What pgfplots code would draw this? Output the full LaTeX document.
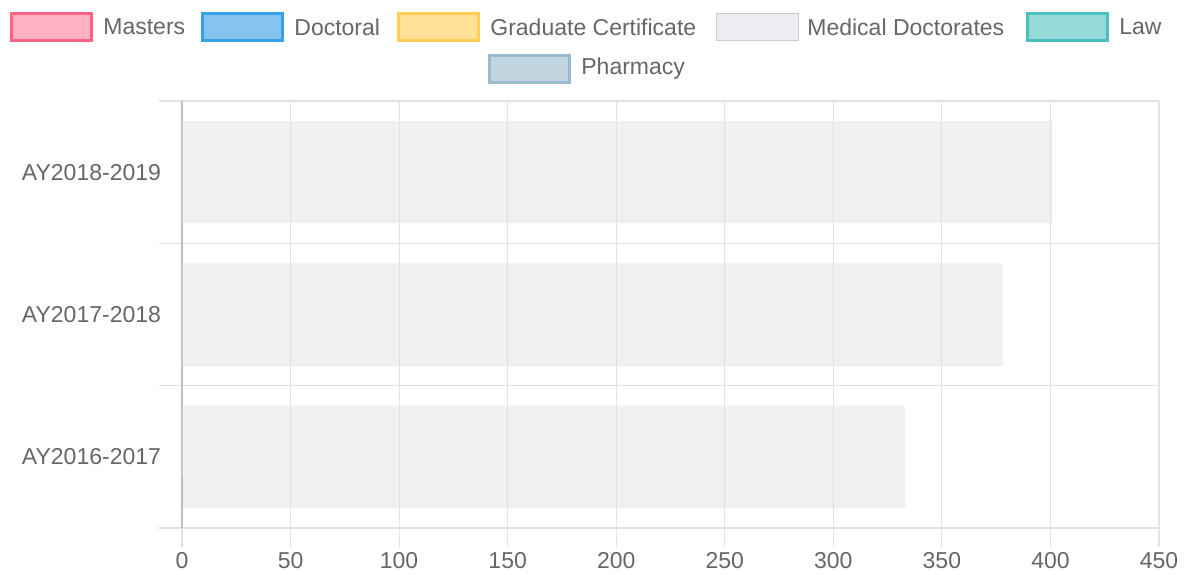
\documentclass[border=0pt]{standalone}
\usepackage{pgfplots}
\pgfplotsset{compat=1.18}
\usepackage{fontspec}
\setmainfont{Liberation Sans}
\definecolor{txt}{RGB}{102,102,102}
\definecolor{gridgray}{RGB}{226,226,226}
\definecolor{axisgray}{RGB}{190,190,190}
\definecolor{mdbar}{RGB}{225,226,230}
\definecolor{mastersB}{RGB}{255,99,132}\definecolor{mastersF}{RGB}{255,177,193}
\definecolor{docB}{RGB}{54,162,235}\definecolor{docF}{RGB}{134,196,240}
\definecolor{gcB}{RGB}{255,206,86}\definecolor{gcF}{RGB}{255,224,150}
\definecolor{mdB}{RGB}{201,203,207}\definecolor{mdF}{RGB}{236,237,240}
\definecolor{lawB}{RGB}{75,192,192}\definecolor{lawF}{RGB}{148,218,216}
\definecolor{phB}{RGB}{151,187,205}\definecolor{phF}{RGB}{194,214,225}
\begin{document}
\begin{tikzpicture}
\path[use as bounding box] (0,0) rectangle (592.5pt,-287pt);
\begin{axis}[
  at={(91pt,-264pt)}, anchor=south west,
  scale only axis, width=488.5pt, height=213.5pt,
  clip=false,
  xbar, bar width=0.72,
  xmin=0, xmax=450, ymin=-0.5, ymax=2.5,
  xtick={0,50,...,450},
  ytick={0,1,2},
  yticklabels={AY2016-2017,AY2017-2018,AY2018-2019},
  minor ytick={-0.5,0.5,1.5,2.5},
  xtick pos=left, ytick pos=left,
  xmajorgrids, yminorgrids,
  grid style={draw=gridgray, line width=0.6pt},
  axis line style={draw=none},
  tick align=outside,
  major tick length=9.5pt, minor tick length=11.5pt,
  tick style={draw=gridgray, line width=0.6pt},
  every major y tick/.style={draw=none},
  extra x ticks={0}, extra x tick labels={},
  extra x tick style={grid=major, grid style={draw=axisgray, line width=0.7pt}},
  ticklabel style={font=\fontsize{11.5}{13.5}\selectfont, text=txt},
  /pgf/number format/assume math mode=true,
  xticklabel style={yshift=1pt},
  yticklabel style={xshift=2.5pt},
]
\addplot[fill=mdbar, fill opacity=0.5, draw=none] coordinates {(333,0) (378,1) (401,2)};
\pgfplotsinvokeforeach{50,100,150,200,250,300,350,400,450}{
  \draw[gridgray, line width=0.6pt] (axis cs:#1,-0.5) -- ++(0,-9.5pt);}
\draw[axisgray, line width=0.7pt] (axis cs:0,-0.5) -- ++(0,-9.5pt);
\end{axis}
\begin{scope}[x=0.5pt, y=-0.5pt, every node/.style={anchor=west, inner sep=0pt, text=txt, font=\fontsize{11.5}{13.5}\selectfont}]
\def\lbox#1#2#3#4#5{%
  \draw[draw=#3, fill=#4, line width=1.5pt] (#1+1.5,#2-13.5) rectangle (#1+81.5,#2+13.5);
  \node at (#1+93,#2) {#5};}
\lbox{10}{27}{mastersB}{mastersF}{Masters}
\lbox{201}{27}{docB}{docF}{Doctoral}
\lbox{397}{27}{gcB}{gcF}{Graduate Certificate}
\draw[draw=mdB, fill=mdF, line width=0.6pt] (716.5,13.5) rectangle (798.5,40.5);
\node at (807,27) {Medical Doctorates};
\lbox{1026}{27}{lawB}{lawF}{Law}
\lbox{488}{69}{phB}{phF}{Pharmacy}
\end{scope}
\end{tikzpicture}
\end{document}
